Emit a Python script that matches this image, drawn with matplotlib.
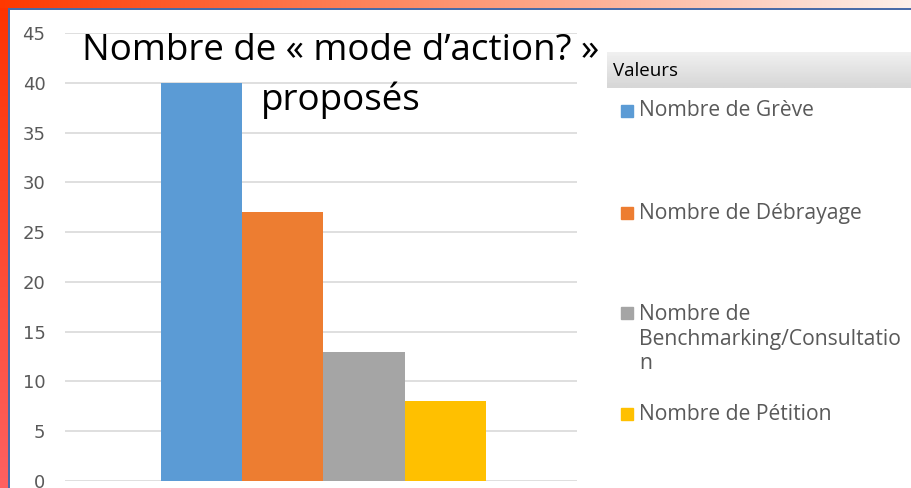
import matplotlib.pyplot as plt
import numpy as np
from matplotlib.patches import Rectangle

categories = ["Nombre de Grève", "Nombre de Débrayage",
              "Nombre de Benchmarking/Consultation", "Nombre de Pétition"]
legend_labels = ["Nombre de Grève", "Nombre de Débrayage",
                 "Nombre de\nBenchmarking/Consultatio\nn", "Nombre de Pétition"]
values = [40, 27, 13, 8]
colors = ["#5b9bd5", "#ed7d31", "#a5a5a5", "#ffc000"]
yticks = [0, 5, 10, 15, 20, 25, 30, 35, 40, 45]
title_lines = ["Nombre de « mode d\u2019action? »", "proposés"]

W, H = 912, 488
fig = plt.figure(figsize=(W / 100, H / 100), dpi=100)
fig.patch.set_facecolor("white")

# slide frame: red strip on the left, red->white gradient on top, thin blue line
bg = fig.add_axes([0, 0, 1, 1], zorder=-10)
img = np.ones((H, W, 3))
t = np.linspace(0, 1, H)[:, None]
left = (1 - t) * np.array([1.0, 0.2, 0.0]) + t * np.array([1.0, 0.38, 0.38])
img[:, :8, :] = left[:, None, :]
s = np.linspace(0, 1, W)[:, None]
top = np.where(s < 0.45,
               (1 - s / 0.45) * np.array([1.0, 0.22, 0.0]) + (s / 0.45) * np.array([1.0, 0.55, 0.4]),
               (1 - (s - 0.45) / 0.55) * np.array([1.0, 0.55, 0.4]) + ((s - 0.45) / 0.55) * np.array([0.99, 0.94, 0.92]))
img[:8, :, :] = top[None, :, :]
img[8:10, 8:, :] = np.array([0.29, 0.42, 0.66])
img[8:, 8:10, :] = np.array([0.29, 0.42, 0.66])
bg.imshow(img, aspect="auto", interpolation="bilinear")
bg.axis("off")

ax = fig.add_axes([65 / W, (H - 481) / H, (577 - 65) / W, (481 - 33) / H])
x = np.arange(len(values))
ax.bar(x, values, width=1.0, color=colors, zorder=3)
ax.set_xlim(-1.68, 4.62)
ax.set_ylim(0, 45)
ax.set_yticks(yticks)
ax.yaxis.grid(True, color="#d9d9d9", linewidth=1.2, zorder=0)
ax.set_xticks([])
for sp in ax.spines.values():
    sp.set_visible(False)
ax.tick_params(axis="y", length=0, pad=14, labelsize=13, labelcolor="#595959")
ax.patch.set_alpha(0)

for line, yb in zip(title_lines, [60, 110]):
    fig.text(341 / W, 1 - yb / H, line, ha="center", va="baseline",
             fontsize=26.5, family="Open Sans", color="black")

# legend header
hdr = fig.add_axes([607 / W, 1 - 88 / H, (W - 607) / W, 36 / H], zorder=-5)
hdr.imshow(np.linspace(0.94, 0.84, 20)[:, None] * np.ones((1, 10)),
           cmap="gray", vmin=0, vmax=1, aspect="auto")
hdr.axis("off")
fig.text(613 / W, 1 - 71 / H, "Valeurs", ha="left", va="center",
         fontsize=13.5, family="Open Sans", color="black")

line_h = 26
entry_y = [111, 213, 339, 414]
for lab, c, yy in zip(legend_labels, colors, entry_y):
    n = lab.count("\n")
    y_first = yy - n * line_h / 2
    fig.patches.append(Rectangle((621 / W, 1 - (y_first + 6) / H), 12 / W, 12 / H,
                                 transform=fig.transFigure, color=c))
    fig.text(639 / W, 1 - yy / H, lab, ha="left", va="center", fontsize=15.2,
             family="Open Sans", color="#595959", linespacing=1.2)

fig.savefig("out.png", dpi=100)
